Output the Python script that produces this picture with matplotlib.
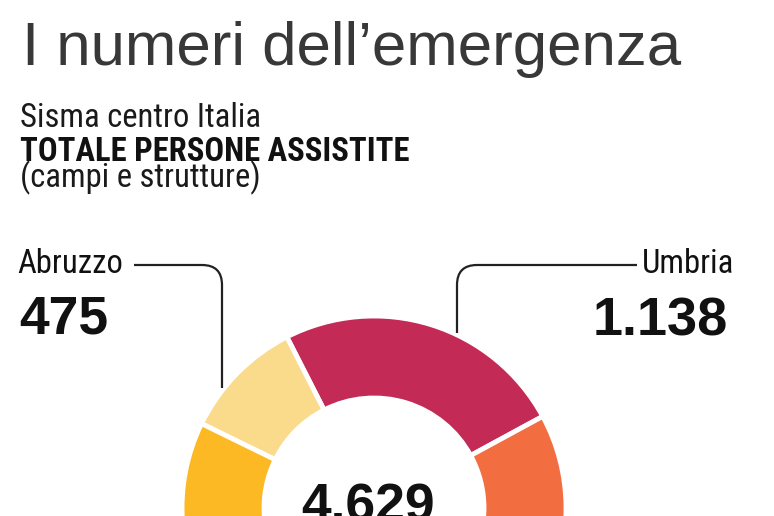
import matplotlib
matplotlib.use("Agg")
import matplotlib.pyplot as plt
from matplotlib.path import Path
from matplotlib.patches import PathPatch
from matplotlib import font_manager

# ---- data ----
regions = ["Umbria", "Abruzzo", "Lazio", "Marche"]
persons = [1138, 475, 1560, 1456]          # Lazio / Marche split hidden (estimated), sum 4629
colors = ["#c42a56", "#fadb8c", "#fdb924", "#f26d40"]
total_label = "4.629"
title = "I numeri dell\u2019emergenza"
subtitle1 = "Sisma centro Italia"
subtitle2 = "TOTALE PERSONE ASSISTITE"
subtitle3 = "(campi e strutture)"
label_abruzzo = ("Abruzzo", "475")
label_umbria = ("Umbria", "1.138")

W, H = 774, 516
fig = plt.figure(figsize=(W / 100, H / 100), dpi=100)
fig.patch.set_facecolor("white")
ax = fig.add_axes([0, 0, 1, 1])

def Y(y):
    return H - y

cx, cy = 374, 508
R_out, ring = 192, 82

ax.pie(persons, colors=colors, startangle=28.5, counterclock=True,
       center=(cx, Y(cy)), radius=R_out,
       wedgeprops=dict(width=ring, edgecolor="white", linewidth=3.5))
ax.set_xlim(0, W)
ax.set_ylim(0, H)
ax.set_aspect("auto")
ax.axis("off")

available = {f.name for f in font_manager.fontManager.ttflist}
narrow_name = "Roboto"
for cand in ["Liberation Sans Narrow", "Roboto Condensed", "Open Sans Condensed",
             "Noto Sans Condensed", "DejaVu Sans Condensed"]:
    if cand in available:
        narrow_name = cand
        break
narrow = [narrow_name, "DejaVu Sans"]
sans = ["Liberation Sans", "DejaVu Sans"]

ax.text(22, Y(65), title, family=sans, fontsize=44.5, color="#383838",
        va="baseline", ha="left")
ax.text(20, Y(127), subtitle1, family=narrow, fontsize=23.5, color="#1a1a1a",
        va="baseline", ha="left")
ax.text(20, Y(161), subtitle2, family=narrow, fontsize=23.5, fontweight="bold",
        color="#111111", va="baseline", ha="left")
ax.text(20, Y(187), subtitle3, family=narrow, fontsize=23.5, color="#1a1a1a",
        va="baseline", ha="left")

ax.text(17, Y(273), label_abruzzo[0], family=narrow, fontsize=23.5, color="#111111",
        va="baseline", ha="left")
ax.text(19, Y(334), label_abruzzo[1], family=sans, fontsize=38.5, fontweight="bold",
        color="#111111", va="baseline", ha="left")
ax.text(734, Y(273), label_umbria[0], family=narrow, fontsize=23.5, color="#111111",
        va="baseline", ha="right")
ax.text(728, Y(335), label_umbria[1], family=sans, fontsize=39, fontweight="bold",
        color="#111111", va="baseline", ha="right")
ax.text(368, Y(522), total_label, family=sans, fontsize=38.5, fontweight="bold",
        color="#111111", va="baseline", ha="center")

# leader lines with rounded corners
def leader(x0, y0, xc, yc_end, r):
    s = 1 if xc > x0 else -1
    verts = [(x0, Y(y0)), (xc - s * r, Y(y0)),
             (xc, Y(y0)), (xc, Y(y0 + r)),
             (xc, Y(yc_end))]
    codes = [Path.MOVETO, Path.LINETO, Path.CURVE3, Path.CURVE3, Path.LINETO]
    ax.add_patch(PathPatch(Path(verts, codes), fill=False, edgecolor="#222222",
                           linewidth=1.6, capstyle="butt", joinstyle="round"))

leader(134, 265, 222, 388, 20)
leader(637, 265, 457, 333, 20)

fig.savefig("out.png", dpi=100, facecolor="white")
